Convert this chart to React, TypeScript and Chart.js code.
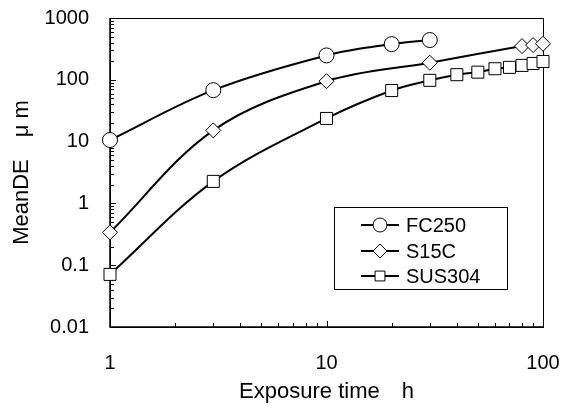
import React, { useEffect, useRef } from "react";
import { Chart, registerables } from "chart.js";

Chart.register(...registerables);

const fc250X = [1, 3, 10, 20, 30];
const fc250Y = [10.6, 68, 248, 378, 440];
const s15cX = [1, 3, 10, 30, 80, 90, 100];
const s15cY = [0.34, 15.2, 95, 189, 351, 365, 383];
const sus304X = [1, 3, 10, 20, 30, 40, 50, 60, 70, 80, 90, 100];
const sus304Y = [0.071, 2.27, 23.7, 67, 98, 121, 133, 151, 159, 171, 184, 198];

const seriesNames = ["FC250", "S15C", "SUS304"];
const seriesStyles = ["circle", "rectRot", "rect"];
const xTickLabels = [1, 10, 100];
const yTickLabels = [0.01, 0.1, 1, 10, 100, 1000];
const xTitle = "Exposure time\u3000h";
const yTitle = "MeanDE\u3000μ m";

const FONT = "'Liberation Sans', Arial, sans-serif";

function toPts(xs: number[], ys: number[]) {
  return xs.map((x, i) => ({ x, y: ys[i] }));
}

function drawMarker(ctx: CanvasRenderingContext2D, style: string, x: number, y: number, r: number) {
  ctx.beginPath();
  if (style === "circle") {
    ctx.arc(x, y, r, 0, Math.PI * 2);
  } else if (style === "rectRot") {
    ctx.moveTo(x - r, y);
    ctx.lineTo(x, y - r);
    ctx.lineTo(x + r, y);
    ctx.lineTo(x, y + r);
    ctx.closePath();
  } else {
    const s = r * Math.SQRT1_2;
    ctx.rect(x - s, y - s, 2 * s, 2 * s);
  }
  ctx.fillStyle = "#fff";
  ctx.fill();
  ctx.lineWidth = 1;
  ctx.strokeStyle = "#000";
  ctx.stroke();
}

const framePlugin = {
  id: "frameTicks",
  beforeDatasetsDraw(chart: any) {
    const { ctx, chartArea } = chart;
    const xs = chart.scales.x;
    const ys = chart.scales.y;
    ctx.save();
    ctx.strokeStyle = "#000";
    ctx.lineWidth = 1;
    ctx.strokeRect(Math.round(chartArea.left) + 0.5, Math.round(chartArea.top) + 0.5,
      Math.round(chartArea.right - chartArea.left), Math.round(chartArea.bottom - chartArea.top));
    ctx.lineWidth = 1.5;
    ctx.beginPath();
    ctx.moveTo(chartArea.left, chartArea.top);
    ctx.lineTo(chartArea.left, chartArea.bottom);
    ctx.lineTo(chartArea.right, chartArea.bottom);
    ctx.stroke();
    ctx.lineWidth = 1;
    ctx.beginPath();
    for (let e = -2; e < 3; e++) {
      for (let m = 1; m <= 9; m++) {
        const v = m * Math.pow(10, e);
        const py = Math.round(ys.getPixelForValue(v)) + 0.5;
        const len = m === 1 ? 6 : 4;
        ctx.moveTo(chartArea.left, py);
        ctx.lineTo(chartArea.left + len, py);
      }
    }
    for (let e = 0; e < 2; e++) {
      for (let m = 1; m <= 9; m++) {
        const v = m * Math.pow(10, e);
        const px = Math.round(xs.getPixelForValue(v)) + 0.5;
        const len = m === 1 ? 6 : 4;
        ctx.moveTo(px, chartArea.bottom);
        ctx.lineTo(px, chartArea.bottom - len);
      }
    }
    ctx.stroke();
    ctx.restore();
  },
  afterDraw(chart: any) {
    const { ctx } = chart;
    ctx.save();
    const bx = 334, by = 207, bw = 173, bh = 82;
    ctx.fillStyle = "#fff";
    ctx.fillRect(bx, by, bw, bh);
    ctx.strokeStyle = "#000";
    ctx.lineWidth = 1;
    ctx.strokeRect(bx + 0.5, by + 0.5, bw, bh);
    const rows = [225, 251, 276];
    ctx.font = `20px ${FONT}`;
    ctx.textBaseline = "middle";
    ctx.textAlign = "left";
    seriesNames.forEach((name, i) => {
      const y = rows[i];
      ctx.strokeStyle = "#000";
      ctx.lineWidth = 2;
      ctx.beginPath();
      ctx.moveTo(361, y);
      ctx.lineTo(399, y);
      ctx.stroke();
      drawMarker(ctx, seriesStyles[i], 380, y, 7);
      ctx.fillStyle = "#000";
      ctx.fillText(name, 406, y + 1);
    });
    ctx.restore();
  },
};

export default function App() {
  const ref = useRef<HTMLCanvasElement | null>(null);
  useEffect(() => {
    if (!ref.current) return;
    const mk = (label: string, xs: number[], ys: number[], style: string, r: number) => ({
      label,
      data: toPts(xs, ys),
      borderColor: "#000",
      borderWidth: 2,
      backgroundColor: "#fff",
      pointStyle: style,
      pointRadius: r,
      pointBorderWidth: 1,
      pointBorderColor: "#000",
      pointBackgroundColor: "#fff",
      tension: 0.35,
      clip: false,
    });
    const chart = new Chart(ref.current, {
      type: "line",
      data: {
        datasets: [
          mk(seriesNames[0], fc250X, fc250Y, "circle", 7.5),
          mk(seriesNames[1], s15cX, s15cY, "rectRot", 7.5),
          mk(seriesNames[2], sus304X, sus304Y, "rect", 8.5),
        ],
      },
      options: {
        animation: false,
        responsive: true,
        maintainAspectRatio: false,
        layout: { padding: { left: 0, top: 18, right: 21, bottom: 0 } },
        plugins: { legend: { display: false }, tooltip: { enabled: false } },
        scales: {
          x: {
            type: "logarithmic",
            min: 1,
            max: 100,
            grid: { display: false, drawTicks: false },
            border: { display: false },
            afterBuildTicks: (s: any) => {
              s.ticks = xTickLabels.map((v) => ({ value: v }));
            },
            afterFit: (s: any) => {
              s.height = 78;
              s.paddingLeft = 0;
              s.paddingRight = 0;
            },
            ticks: {
              padding: 24,
              maxRotation: 0,
              color: "#000",
              font: { family: FONT, size: 20 },
              callback: (v: any) => String(v),
            },
            title: {
              display: true,
              text: xTitle,
              color: "#000",
              font: { family: FONT, size: 22 },
              padding: { top: 0, bottom: 0 },
            },
          },
          y: {
            type: "logarithmic",
            min: 0.01,
            max: 1000,
            grid: { display: false, drawTicks: false },
            border: { display: false },
            afterBuildTicks: (s: any) => {
              s.ticks = yTickLabels.map((v) => ({ value: v }));
            },
            afterFit: (s: any) => {
              s.width = 110;
              s.paddingTop = 0;
              s.paddingBottom = 0;
            },
            ticks: {
              padding: 21,
              color: "#000",
              font: { family: FONT, size: 20 },
              callback: (v: any) => String(v),
            },
            title: {
              display: true,
              text: yTitle,
              color: "#000",
              font: { family: FONT, size: 22 },
              padding: { top: 9, bottom: 0 },
            },
          },
        },
      },
      plugins: [framePlugin],
    } as any);
    return () => chart.destroy();
  }, []);
  return (
    <div style={{ position: "absolute", left: 0, top: 0, width: 564, height: 405, background: "#fff" }}>
      <canvas ref={ref} />
    </div>
  );
}
